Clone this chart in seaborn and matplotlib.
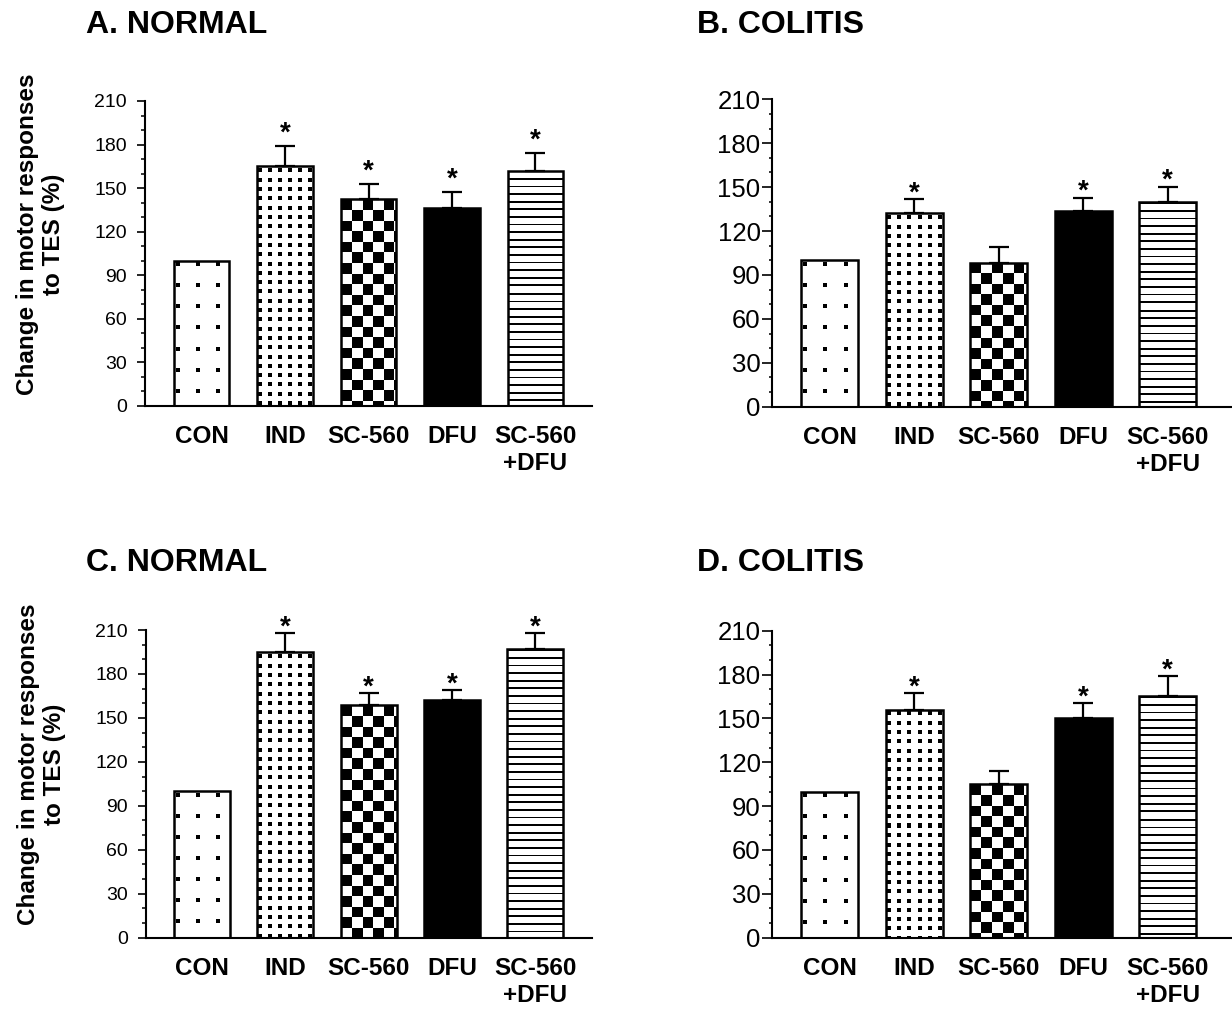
import numpy as np
import pandas as pd
import matplotlib
matplotlib.use("Agg")
import matplotlib.pyplot as plt
import seaborn as sns
from matplotlib.ticker import MultipleLocator

# ---------------- data ----------------
categories = ["CON", "IND", "SC-560", "DFU", "SC-560\n+DFU"]

values_a = [100, 165, 142.5, 136.5, 162]
errors_a = [0, 14, 10.5, 10.5, 12]
signif_a = [False, True, True, True, True]

values_b = [100, 132.5, 98.5, 134, 139.5]
errors_b = [0, 9.2, 10.5, 8.6, 10.5]
signif_b = [False, True, False, True, True]

values_c = [100, 195, 159, 162, 197]
errors_c = [0, 12.7, 8.2, 7, 11.2]
signif_c = [False, True, True, True, True]

values_d = [100, 156, 105, 150, 165]
errors_d = [0, 11.7, 8.8, 10.4, 14]
signif_d = [False, True, False, True, True]

titles = ["A. NORMAL", "B. COLITIS", "C. NORMAL", "D. COLITIS"]
y_label = "Change in motor responses\nto TES (%)"
y_ticks = [0, 30, 60, 90, 120, 150, 180, 210]

# ---------------- style ----------------
patterns = ["sparse", "dense", "checker", "solid", "hlines"]

sns.set_style("ticks")
plt.rcParams["font.family"] = ["Liberation Sans", "DejaVu Sans"]
plt.rcParams["text.color"] = "black"
plt.rcParams["axes.labelcolor"] = "black"
plt.rcParams["xtick.color"] = "black"
plt.rcParams["ytick.color"] = "black"

W, H = 1232, 1011
fig = plt.figure(figsize=(W / 100, H / 100), dpi=100)


def texture(kind, h, w):
    img = np.ones((h, w))
    yy, xx = np.mgrid[0:h, 0:w]
    if kind == "sparse":
        mask = ((xx - 2) % 20 < 4) & ((yy - 2) % 21 < 4)
    elif kind == "dense":
        mask = ((xx - 1) % 10 < 4) & ((yy - 2) % 9.3 < 4)
    elif kind == "checker":
        mask = ((np.floor(xx / 10.6) + np.floor(yy / 10.6)) % 2) == 0
    elif kind == "hlines":
        mask = (yy % 7.6) < 1.8
    else:
        mask = np.ones_like(img, dtype=bool)
    img[mask] = 0
    return img


panels = [
    dict(vals=values_a, errs=errors_a, sig=signif_a, title=titles[0],
         rect=[145 / W, (H - 406) / H, 447 / W, 305 / H],
         xlim=(-0.677, 4.677), width=0.67, small=True, ast_off=4.0,
         title_xy=(86, 33)),
    dict(vals=values_b, errs=errors_b, sig=signif_b, title=titles[1],
         rect=[771.7 / W, (H - 406.7) / H, (W - 771.7) / W, 307.4 / H],
         xlim=(-0.684, 4.76), width=0.675, small=False, ast_off=-0.7,
         title_xy=(697, 33)),
    dict(vals=values_c, errs=errors_c, sig=signif_c, title=titles[2],
         rect=[145.7 / W, (H - 937.7) / H, 446 / W, 307.7 / H],
         xlim=(-0.677, 4.677), width=0.67, small=True, ast_off=-1.2,
         title_xy=(86, 571)),
    dict(vals=values_d, errs=errors_d, sig=signif_d, title=titles[3],
         rect=[771.7 / W, (H - 937.7) / H, (W - 771.7) / W, 307 / H],
         xlim=(-0.684, 4.76), width=0.675, small=False, ast_off=-1.2,
         title_xy=(697, 571)),
]

for k, p in enumerate(panels):
    ax = fig.add_axes(p["rect"])
    df = pd.DataFrame({"group": categories, "value": p["vals"]})
    sns.barplot(data=df, x="group", y="value", order=categories, color="white",
                saturation=1, edgecolor="black", linewidth=1.8,
                width=p["width"], errorbar=None, ax=ax)
    ax.set_xlim(*p["xlim"])
    ax.set_ylim(0, 210)

    bars = list(ax.patches)
    for i, bar in enumerate(bars):
        kind = patterns[i]
        bar.set_zorder(2)
        if kind == "solid":
            bar.set_facecolor("black")
            continue
        bar.set_facecolor("none")
        x0, y0 = bar.get_x(), bar.get_y()
        x1, y1 = x0 + bar.get_width(), y0 + bar.get_height()
        (px0, py0), (px1, py1) = ax.transData.transform([(x0, y0), (x1, y1)])
        wpx = max(int(round(px1 - px0)), 1)
        hpx = max(int(round(py1 - py0)), 1)
        img = texture(kind, hpx, wpx)
        im = ax.imshow(img, cmap="gray", vmin=0, vmax=1, origin="upper",
                       extent=(x0, x1, y0, y1), aspect="auto",
                       interpolation="nearest", zorder=1.5)
        im.set_clip_path(bar)

    idx = [i for i in range(len(categories)) if p["errs"][i] > 0]
    ax.errorbar(x=idx, y=[p["vals"][i] for i in idx],
                yerr=[[0] * len(idx), [p["errs"][i] for i in idx]],
                fmt="none", ecolor="black", elinewidth=1.6, capsize=7.5,
                capthick=1.6, zorder=1.8)

    for i in range(len(categories)):
        if p["sig"][i]:
            ax.annotate("*", xy=(i, p["vals"][i] + p["errs"][i]),
                        xytext=(0, p["ast_off"]), textcoords="offset points",
                        ha="center", va="baseline", fontsize=20,
                        fontweight="bold", color="black",
                        annotation_clip=False)

    ax.set_xlim(*p["xlim"])
    ax.set_ylim(0, 210)
    ax.set_xlabel("")
    ax.set_ylabel("")
    sns.despine(ax=ax)
    for s in ("left", "bottom"):
        ax.spines[s].set_linewidth(1.5)
        ax.spines[s].set_color("black")

    ax.set_yticks(y_ticks)
    ax.yaxis.set_minor_locator(MultipleLocator(10))
    if p["small"]:
        ax.tick_params(axis="y", which="major", length=6, width=1.2,
                       labelsize=14, pad=7, direction="out", colors="black")
        ax.tick_params(axis="y", which="minor", length=2.8, width=1.1,
                       direction="out", colors="black")
    else:
        ax.tick_params(axis="y", which="major", length=7, width=1.2,
                       labelsize=18.5, pad=1, direction="out", colors="black")
        ax.tick_params(axis="y", which="minor", length=2.5, width=1.1,
                       direction="out", colors="black")
    ax.tick_params(axis="x", length=0, labelsize=17.5, pad=14, colors="black")
    for lab in ax.get_xticklabels():
        lab.set_fontweight("bold")
        lab.set_multialignment("center")

    if p["small"]:
        ax.text(-0.234, 0.564, y_label, transform=ax.transAxes, rotation=90,
                ha="center", va="center", fontsize=17.5, fontweight="bold",
                linespacing=1.15, multialignment="center", color="black")

    tx, ty = p["title_xy"]
    fig.text(tx / W, 1 - ty / H, p["title"], ha="left", va="baseline",
             fontsize=23, fontweight="bold", color="black")

fig.savefig("out.png", dpi=100)
